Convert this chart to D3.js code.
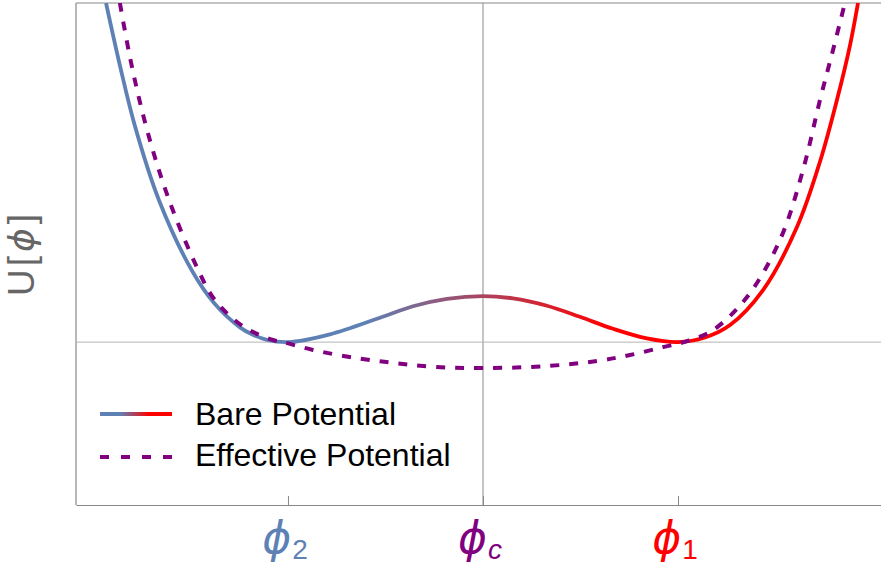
<!DOCTYPE html>
<html>
<head>
<meta charset="utf-8">
<script src="https://cdn.jsdelivr.net/npm/d3@7"></script>
<style>
  html, body { margin: 0; padding: 0; background: #fff; }
  svg { display: block; }
  text { font-family: "Liberation Sans", Arial, sans-serif; }
  .phi { font-family: "DejaVu Sans", sans-serif; font-style: oblique; }
</style>
</head>
<body>
<svg id="chart" width="881" height="571"></svg>
<script>
// field values, in units of the well separation (phi_2 = -1, phi_c = 0, phi_1 = 1)
const barePhi = [-1.933, -1.860, -1.785, -1.662, -1.492, -1.379, -1.246, -1.185, -1.108, -1.0,
  -0.785, -0.528, -0.359, -0.185, 0, 0.154, 0.328, 0.497, 0.667, 0.841, 1.0,
  1.138, 1.267, 1.436, 1.610, 1.728, 1.815, 1.882, 1.923];
// bare potential, in units of the barrier height
const bareU = [7.37, 5.98, 4.70, 3.09, 1.55, 0.85, 0.32, 0.17, 0.05, 0,
  0.17, 0.53, 0.78, 0.94, 1.0, 0.95, 0.79, 0.55, 0.29, 0.08, 0,
  0.10, 0.37, 1.13, 2.50, 3.92, 5.26, 6.45, 7.37];

const effPhi = [-1.862, -1.800, -1.718, -1.610, -1.467, -1.374, -1.226, -1.072, -1.026,
  -0.872, -0.646, -0.441, -0.236, 0, 0.328, 0.585, 0.754, 0.923, 1.046,
  1.179, 1.354, 1.523, 1.641, 1.728, 1.795, 1.856];
const effU = [7.37, 5.98, 4.54, 3.09, 1.63, 0.91, 0.33, 0.04, 0,
  -0.17, -0.35, -0.46, -0.54, -0.565, -0.52, -0.41, -0.28, -0.11, 0.02,
  0.26, 0.98, 2.22, 3.74, 5.26, 6.35, 7.37];

const tickPhi = [-1, 0, 1];
const tickSub = ['2', 'c', '1'];
const tickColor = ['#5E81B5', '#800080', '#FF0000'];

const legendNames = ['Bare Potential', 'Effective Potential'];

let svg = d3.select('#chart');
let width = +svg.attr('width');
let height = +svg.attr('height');
let margin = { top: 3, right: 0, bottom: 66, left: 76 };

let x = d3.scaleLinear().domain([-2.087, 2.041]).range([margin.left, width - margin.right]);
let y = d3.scaleLinear().domain([-3.54, 7.37]).range([height - margin.bottom, margin.top]);

let defs = svg.append('defs');
defs.append('clipPath').attr('id', 'plotclip')
  .append('rect')
  .attr('x', margin.left).attr('y', margin.top)
  .attr('width', width - margin.left - margin.right)
  .attr('height', height - margin.top - margin.bottom);

let grad = defs.append('linearGradient')
  .attr('id', 'bareGrad')
  .attr('gradientUnits', 'userSpaceOnUse')
  .attr('x1', x(-0.6)).attr('x2', x(0.65))
  .attr('y1', 0).attr('y2', 0);
grad.append('stop').attr('offset', 0).attr('stop-color', '#5E81B5');
grad.append('stop').attr('offset', 1).attr('stop-color', '#FF0000');

let lgGrad = defs.append('linearGradient').attr('id', 'legendGrad');
lgGrad.append('stop').attr('offset', 0.28).attr('stop-color', '#5E81B5');
lgGrad.append('stop').attr('offset', 0.68).attr('stop-color', '#FF0000');

// frame
svg.append('line')
  .attr('x1', margin.left).attr('x2', margin.left)
  .attr('y1', margin.top).attr('y2', height - margin.bottom)
  .attr('stroke', '#888').attr('stroke-width', 1.2);
svg.append('line')
  .attr('x1', margin.left).attr('x2', width)
  .attr('y1', margin.top).attr('y2', margin.top)
  .attr('stroke', '#888').attr('stroke-width', 1.2);

// origin lines
svg.append('line')
  .attr('x1', x(0)).attr('x2', x(0))
  .attr('y1', margin.top).attr('y2', height - margin.bottom)
  .attr('stroke', '#8a8a8a').attr('stroke-width', 1);
svg.append('line')
  .attr('x1', margin.left).attr('x2', width)
  .attr('y1', y(0)).attr('y2', y(0))
  .attr('stroke', '#b4b4b4').attr('stroke-width', 1);

// bottom axis
let xAxis = d3.axisBottom(x)
  .tickValues(tickPhi)
  .tickSizeInner(-9)
  .tickSizeOuter(0)
  .tickFormat('');
let gx = svg.append('g')
  .attr('transform', `translate(0,${height - margin.bottom})`)
  .call(xAxis);
gx.select('.domain').attr('stroke', '#888').attr('stroke-width', 1.2);
gx.selectAll('.tick line').attr('stroke', '#888');

let labels = svg.append('g').selectAll('text')
  .data(tickPhi)
  .join('text')
    .attr('x', (d, i) => x(d) - 3)
    .attr('y', 553)
    .attr('text-anchor', 'middle')
    .attr('fill', (d, i) => tickColor[i]);
labels.append('tspan')
  .attr('class', 'phi')
  .attr('font-size', 44)
  .text('\u03D5');
labels.append('tspan')
  .attr('dy', 6)
  .attr('dx', 1)
  .attr('font-size', 28)
  .attr('font-style', (d, i) => tickSub[i] === 'c' ? 'italic' : 'normal')
  .text((d, i) => tickSub[i]);

// y label
let ylab = svg.append('text')
  .attr('transform', `translate(34,${255}) rotate(-90)`)
  .attr('text-anchor', 'middle')
  .attr('fill', '#666')
  .attr('font-size', 37);
ylab.append('tspan').text('U');
ylab.append('tspan').attr('dx', 3).text('[');
ylab.append('tspan').attr('class', 'phi').attr('dx', 4).attr('font-size', 36).text('\u03D5');
ylab.append('tspan').attr('dx', 4).text(']');

// curves
let plot = svg.append('g').attr('clip-path', 'url(#plotclip)');

let bareLine = d3.line()
  .x((d, i) => x(barePhi[i]))
  .y((d, i) => y(bareU[i]))
  .curve(d3.curveCatmullRom.alpha(0.5));
let effLine = d3.line()
  .x((d, i) => x(effPhi[i]))
  .y((d, i) => y(effU[i]))
  .curve(d3.curveCatmullRom.alpha(0.5));

plot.append('path')
  .datum(bareU)
  .attr('d', bareLine)
  .attr('fill', 'none')
  .attr('stroke', 'url(#bareGrad)')
  .attr('stroke-width', 3.8);

plot.append('path')
  .datum(effU)
  .attr('d', effLine)
  .attr('fill', 'none')
  .attr('stroke', '#800080')
  .attr('stroke-width', 4)
  .attr('stroke-dasharray', '9,10');

// legend
let legend = svg.append('g');
legend.append('line')
  .attr('x1', 100).attr('x2', 172).attr('y1', 414).attr('y2', 414.01)
  .attr('stroke', 'url(#legendGrad)').attr('stroke-width', 3.8);
legend.append('line')
  .attr('x1', 100).attr('x2', 172).attr('y1', 457).attr('y2', 457)
  .attr('stroke', '#800080').attr('stroke-width', 4)
  .attr('stroke-dasharray', '9,12');
legend.selectAll('text.lg')
  .data(legendNames)
  .join('text')
    .attr('class', 'lg')
    .attr('x', 195)
    .attr('y', (d, i) => 425 + i * 41)
    .attr('font-size', 32)
    .attr('fill', '#000')
    .text(d => d);
</script>
</body>
</html>
